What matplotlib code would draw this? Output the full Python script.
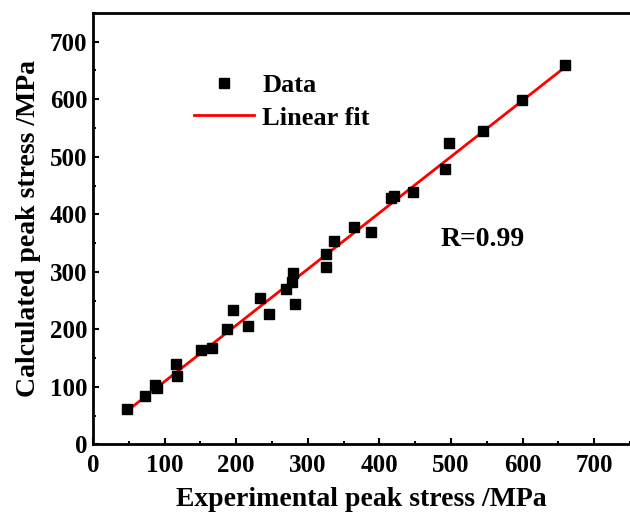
import numpy as np
import matplotlib.pyplot as plt
from matplotlib.ticker import MultipleLocator

# experimental vs calculated peak stress (MPa)
exp_stress = [48, 73, 87, 89, 116, 117, 151, 166, 187, 195, 216, 233, 246,
              270, 278, 279, 282, 325, 325, 336, 365, 388, 416, 421, 447,
              491, 497, 545, 599, 659]
calc_stress = [61, 84, 103, 98, 139, 119, 164, 167, 200, 233, 206, 254, 227,
               270, 283, 298, 244, 308, 331, 354, 378, 370, 429, 431, 439,
               479, 524, 544, 599, 659]
r_label = "R=0.99"

plt.rcParams["font.family"] = ["Liberation Serif", "DejaVu Serif"]
plt.rcParams["font.weight"] = "bold"

x = np.array(exp_stress, dtype=float)
y = np.array(calc_stress, dtype=float)
slope, intercept = np.polyfit(x, y, 1)

fig = plt.figure(figsize=(6.3, 5.16), dpi=100)
ax = fig.add_axes([0.1476, 0.1386, 0.8524, 0.8364])

ax.plot(x, y, "s", color="black", markersize=7.5, label="Data", zorder=3)
xf = np.array([x.min(), x.max()])
ax.plot(xf, slope * xf + intercept, color="red", linewidth=2, label="Linear fit", zorder=2)

ax.set_xlim(0, 750)
ax.set_ylim(0, 750)
ax.xaxis.set_major_locator(MultipleLocator(100))
ax.xaxis.set_minor_locator(MultipleLocator(50))
ax.yaxis.set_major_locator(MultipleLocator(100))
ax.yaxis.set_minor_locator(MultipleLocator(50))
ax.tick_params(which="both", direction="in", width=1.5, labelsize=18)
ax.tick_params(which="major", length=4, pad=4)
ax.tick_params(axis="x", which="major", pad=7)
ax.tick_params(which="minor", length=2.5)
for lbl in ax.get_xticklabels() + ax.get_yticklabels():
    lbl.set_fontweight("bold")

for side in ["left", "bottom", "top"]:
    ax.spines[side].set_linewidth(2)
ax.spines["right"].set_visible(False)

ax.set_xlabel("Experimental peak stress /MPa", fontsize=20, fontweight="bold", labelpad=7)
ax.set_ylabel("Calculated peak stress /MPa", fontsize=20, fontweight="bold", labelpad=6)

ax.legend(loc="upper left", bbox_to_anchor=(0.143, 0.915), frameon=False,
          fontsize=19, handlelength=2.3, handletextpad=0.3, labelspacing=0.35)

ax.text(486, 357, r_label, fontsize=20, fontweight="bold", ha="left", va="center")

fig.savefig("out.png", dpi=100)
